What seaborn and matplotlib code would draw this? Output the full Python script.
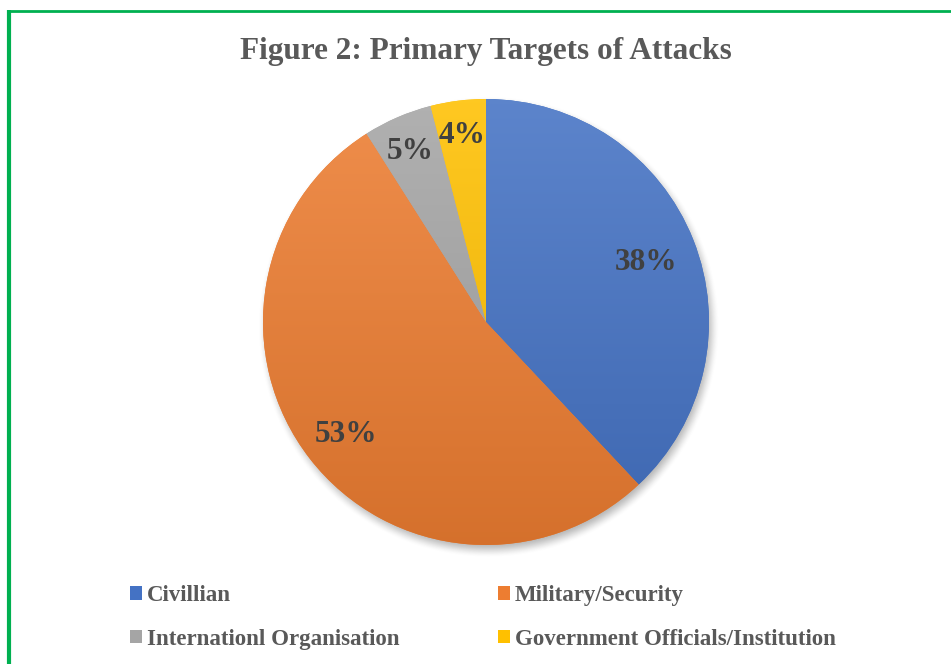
import numpy as np
import matplotlib
matplotlib.use("Agg")
import matplotlib.pyplot as plt
import matplotlib.colors as mcolors
import matplotlib.transforms as mtransforms
from matplotlib.patches import Patch
from matplotlib.lines import Line2D
import seaborn as sns

# Data
categories = ["Civillian", "Military/Security", "Internationl Organisation",
              "Government Officials/Institution"]
shares = [38, 53, 5, 4]
title = "Figure 2: Primary Targets of Attacks"

# Styling
base_colors = ["#4472C4", "#ED7D31", "#A5A5A5", "#FFC000"]
label_radius = [0.77, 0.795, 0.855, 0.86]

sns.set_theme(style="white")
plt.rcParams["font.family"] = ["Liberation Serif", "DejaVu Serif"]
text_grey = "#595959"
label_grey = "#404040"

W, H = 951, 664
fig = plt.figure(figsize=(W / 100, H / 100), dpi=100)
fig.patch.set_facecolor("white")

# Pie axes: centre (486, 322) px, radius 223 px
cx, cy, r_px = 486, 322, 223
lim = 1.2
side = 2 * lim * r_px
ax = fig.add_axes([(cx - side / 2) / W, (H - cy - side / 2) / H, side / W, side / H])
ax.set_xlim(-lim, lim)
ax.set_ylim(-lim, lim)
ax.set_aspect("equal")
ax.axis("off")

# Soft drop shadow beneath the pie
g = np.linspace(-lim, lim, 600)
X, Y = np.meshgrid(g, g)
d = np.hypot(X - 0.012, Y + 0.022)
s = 0.035
t = np.clip((1 + s - d) / (2 * s), 0, 1)
alpha = 0.45 * t * t * (3 - 2 * t)
shadow = np.zeros((600, 600, 4))
shadow[..., :3] = 0.35
shadow[..., 3] = alpha
ax.imshow(shadow, extent=(-lim, lim, -lim, lim), origin="lower", zorder=0,
          interpolation="bilinear")

wedges, _, autotexts = ax.pie(
    shares, colors=base_colors, startangle=90, counterclock=False,
    autopct="%1.0f%%", radius=1.0,
    wedgeprops=dict(linewidth=0, zorder=1),
    textprops=dict(fontsize=22.5, fontweight="bold", color=label_grey),
)
ax.set_xlim(-lim, lim)
ax.set_ylim(-lim, lim)


def shade(color, f):
    c = np.array(mcolors.to_rgb(color))
    if f >= 0:
        return c + (1 - c) * f
    return c * (1 + f)


# Vertical gradient fill clipped to each wedge
yy = np.linspace(-1, 1, 400)[:, None]
frac = (yy + 1) / 2  # 0 at bottom, 1 at top
for w, col in zip(wedges, base_colors):
    top = shade(col, 0.13)
    bot = shade(col, -0.10)
    img = bot[None, None, :] * (1 - frac[..., None]) + top[None, None, :] * frac[..., None]
    img = np.repeat(img, 4, axis=1)
    im = ax.imshow(img, extent=(-1, 1, -1, 1), origin="lower", zorder=2,
                   interpolation="bilinear")
    im.set_clip_path(w)

# Percentage labels placed along each wedge bisector
label_tf = mtransforms.offset_copy(ax.transData, fig=fig, x=0, y=-4, units="dots")
for w, txt, rr in zip(wedges, autotexts, label_radius):
    mid = np.deg2rad((w.theta1 + w.theta2) / 2)
    txt.set_position((rr * np.cos(mid), rr * np.sin(mid)))
    txt.set_transform(label_tf)
    txt.set_zorder(5)
    txt.set_ha("center")
    txt.set_va("center")

fig.text(486 / W, 1 - 51 / H, title, ha="center", va="center",
         fontsize=22.5, fontweight="bold", color=text_grey)

# Legend (row-major order in two columns)
leg_fs = 16.5
fs_px = leg_fs * 100 / 72
handles = [Patch(facecolor=c, edgecolor="none") for c in base_colors]
order = [0, 2, 1, 3]


def make_legend(colspace):
    lg = fig.legend([handles[i] for i in order], [categories[i] for i in order],
                    ncol=2, loc="center left", bbox_to_anchor=(130 / W, 1 - 617.5 / H),
                    frameon=False, fontsize=leg_fs, handlelength=12 / fs_px,
                    handleheight=12 / fs_px, handletextpad=5 / fs_px,
                    labelspacing=0.98, columnspacing=colspace,
                    borderaxespad=0, borderpad=0)
    for t_ in lg.get_texts():
        t_.set_color(text_grey)
        t_.set_fontweight("bold")
    return lg


leg = make_legend(4.0)
fig.canvas.draw()
renderer = fig.canvas.get_renderer()
col1_right = max(leg.get_texts()[i].get_window_extent(renderer).x1 for i in (0, 1))
leg.remove()
leg = make_legend(4.0 + (498 - col1_right - 4.0 * fs_px) / fs_px)

# Green frame on the left and top
green = "#00B050"
fig.add_artist(Line2D([8.5 / W, 8.5 / W], [0, 1 - 10 / H], transform=fig.transFigure,
                      color=green, linewidth=3.0, solid_capstyle="butt"))
fig.add_artist(Line2D([6.5 / W, 1], [1 - 11 / H, 1 - 11 / H], transform=fig.transFigure,
                      color=green, linewidth=2.0, solid_capstyle="butt"))

fig.savefig("out.png", dpi=100, facecolor="white")
